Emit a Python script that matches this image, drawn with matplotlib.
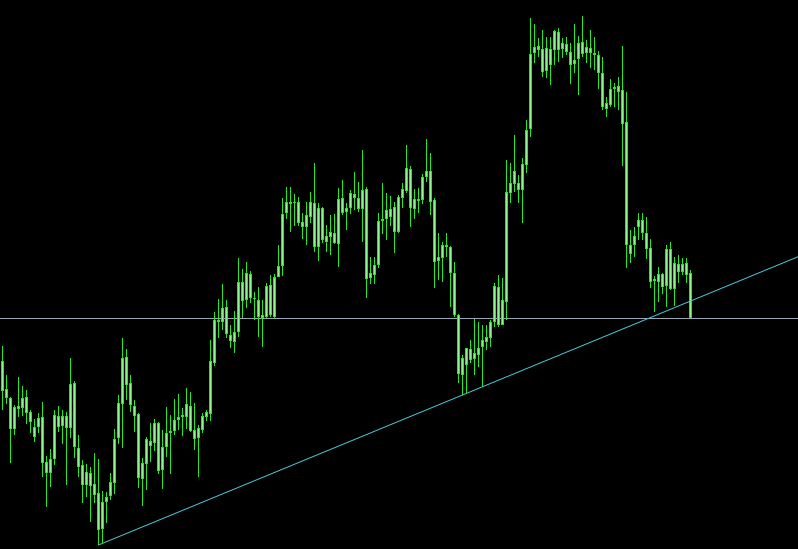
import matplotlib
matplotlib.use("Agg")
import matplotlib.pyplot as plt
import numpy as np

# OHLC price levels (arbitrary price units), one entry per bar
opens = [188,160,151,120,143,141,152,137,122,122,
         132,87,76,90,133,123,133,121,166,101,
         84,64,76,65,56,20,47,53,66,111,
         145,192,166,143,135,70,85,108,106,126,
         79,102,116,118,129,132,132,143,119,111,
         119,132,135,186,229,227,242,214,207,217,
         267,249,275,251,249,234,232,264,232,272,
         283,336,347,346,347,327,322,332,346,302,
         341,313,312,316,305,351,337,341,355,351,
         340,360,271,274,284,328,330,340,342,317,
         351,358,380,340,350,349,372,378,349,288,
         291,304,302,276,234,174,201,189,196,194,
         202,207,211,227,262,224,247,356,365,366,
         359,384,420,496,503,500,478,500,499,517,
         500,505,497,485,490,507,496,501,496,494,
         476,440,444,460,463,459,427,304,304,322,
         329,316,301,268,267,275,263,300,260,285,
         277,286,276]
highs = [203,174,152,144,172,163,159,139,130,136,
         147,93,100,139,143,139,137,191,168,114,
         89,85,82,96,90,58,57,76,120,154,
         211,200,174,149,136,91,112,126,130,127,
         119,142,134,150,155,141,161,157,146,124,
         136,139,209,237,250,265,249,224,238,291,
         280,287,278,257,262,249,266,274,275,304,
         351,362,362,355,352,336,347,357,386,346,
         342,324,334,335,361,369,346,359,377,367,
         399,362,292,292,336,366,356,353,347,354,
         366,404,383,360,361,375,410,396,351,316,
         307,316,303,287,235,194,201,209,230,227,
         224,224,229,266,274,271,389,386,414,374,
         391,429,531,525,511,519,512,512,519,521,
         511,512,506,525,513,533,509,519,512,498,
         492,452,470,466,472,503,457,319,322,336,
         336,332,310,273,282,276,304,307,292,294,
         291,291,279]
lows = [139,145,86,114,132,133,125,116,107,116,
        72,42,62,84,117,105,64,111,91,72,
        46,52,27,46,4,6,26,49,55,105,
        101,149,137,117,61,43,59,87,98,75,
        60,92,75,114,119,113,120,117,99,72,
        116,128,128,183,211,219,211,201,196,212,
        231,241,246,229,212,202,231,232,231,272,
        273,330,317,323,323,310,304,326,297,288,
        306,297,294,305,282,334,319,335,339,337,
        307,251,265,265,281,315,309,323,296,316,
        341,356,322,330,336,345,367,334,261,269,
        267,292,242,232,166,154,156,186,174,182,
        162,199,202,222,222,224,229,346,357,346,
        326,376,412,486,492,472,471,464,484,487,
        491,494,465,476,454,492,486,481,479,460,
        439,432,442,442,439,383,281,286,292,309,
        309,290,261,237,247,255,242,259,243,266,
        274,266,231]
closes = [158,151,120,142,140,151,136,127,112,131,
          86,76,90,134,122,133,121,165,102,82,
          64,77,63,54,19,47,52,67,110,146,
          191,164,144,133,71,86,110,103,126,78,
          102,116,118,129,132,134,145,118,110,121,
          133,137,188,229,227,241,215,208,217,267,
          248,276,251,250,232,231,263,234,272,283,
          335,347,345,347,326,322,334,347,302,341,
          309,307,317,306,350,336,341,356,351,340,
          359,270,276,284,328,330,339,332,317,352,
          360,381,341,350,348,372,378,347,287,292,
          304,302,276,234,175,191,184,200,190,201,
          209,212,227,263,224,249,357,366,378,359,
          385,419,495,502,499,477,501,484,518,499,
          506,497,484,489,506,495,502,496,494,476,
          442,446,460,462,457,425,304,295,313,329,
          316,300,267,270,275,262,300,260,286,277,
          285,274,231]

# horizontal level and trend line anchors (bar index, price)
hline_level = 231
trend_anchor_1 = (24, 4)
trend_anchor_2 = (115, 154)

n = len(closes)
x = np.arange(n)
o = np.array(opens, float); c = np.array(closes, float)
h = np.array(highs, float); l = np.array(lows, float)

fig = plt.figure(figsize=(7.98, 5.49), dpi=100)
fig.patch.set_facecolor("black")
ax = fig.add_axes([0, 0, 1, 1])
ax.set_facecolor("black")
ax.set_xlim(-0.625, 198.875)
ax.set_ylim(0, 549)
ax.axis("off")

wick = "#2ae62a"
face = "#8cf68c"
px = 0.72

# horizontal line
ax.axhline(hline_level, color="#9aa6b6", lw=px, zorder=1)

# wicks (1 px wide)
ax.bar(x, h - l, bottom=l, width=0.25, color=wick, linewidth=0, zorder=2,
       antialiased=False)
# bodies: 3 px outline with light 1 px core
bottom = np.minimum(o, c)
top = np.maximum(o, c)
height = np.maximum(top - bottom, 1.0)
ax.bar(x, height, bottom=bottom, width=0.75, color=wick, linewidth=0, zorder=3,
       antialiased=False)
inner = np.clip(top - bottom - 2.0, 0, None)
ax.bar(x, inner, bottom=bottom + 1.0, width=0.25, color=face, linewidth=0, zorder=4,
       antialiased=False)

# trend line (ray to the right)
(x1, y1), (x2, y2) = trend_anchor_1, trend_anchor_2
slope = (y2 - y1) / (x2 - x1)
xr = 198.875
ax.plot([x1, xr], [y1, y1 + slope * (xr - x1)], color="#46c6d6", lw=px, zorder=5)

fig.savefig("out.png", dpi=100, facecolor="black")
